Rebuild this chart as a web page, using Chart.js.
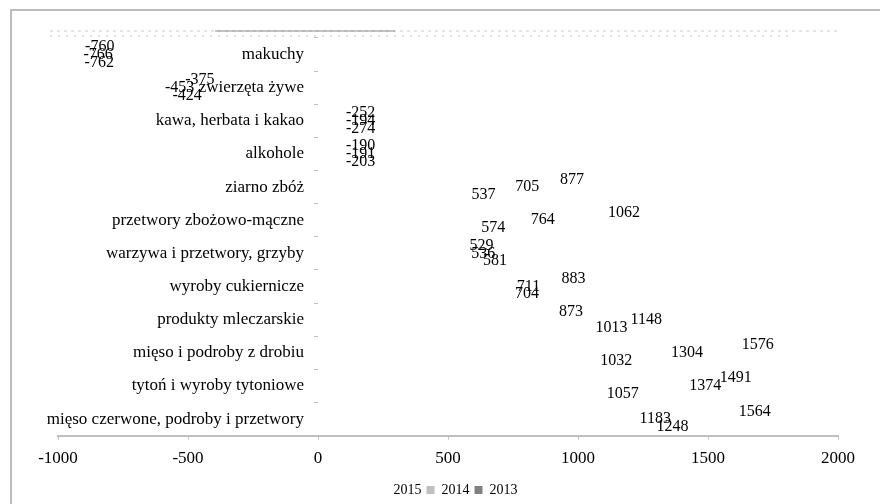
<!DOCTYPE html>
<html>
<head>
<meta charset="utf-8">
<script src="https://cdn.jsdelivr.net/npm/chart.js@4"></script>
<style>
  body { margin: 0; background: #fff; }
  #wrap { width: 880px; height: 504px; }
</style>
</head>
<body>
<div id="wrap"><canvas id="myChart"></canvas></div>
<script>
const categories = [
    'makuchy',
    'zwierzęta żywe',
    'kawa, herbata i kakao',
    'alkohole',
    'ziarno zbóż',
    'przetwory zbożowo-mączne',
    'warzywa i przetwory, grzyby',
    'wyroby cukiernicze',
    'produkty mleczarskie',
    'mięso i podroby z drobiu',
    'tytoń i wyroby tytoniowe',
    'mięso czerwone, podroby i przetwory'
];

// top bar, middle bar, bottom bar of each group
const values2013 = [-760, -375, -252, -190, 877, 1062, 529, 883, 873, 1576, 1491, 1564];
const values2014 = [-766, -453, -194, -191, 705, 764, 536, 711, 1148, 1304, 1374, 1183];
const values2015 = [-762, -424, -274, -203, 537, 574, 581, 704, 1013, 1032, 1057, 1248];

const xTickValues = [-1000, -500, 0, 500, 1000, 1500, 2000];

const legendColors = ['rgb(128, 128, 128)', 'rgb(191, 191, 191)', 'rgb(255, 255, 255)'];

const serif = '"Liberation Serif", "Times New Roman", serif';

// grey frame round the whole picture and the smudged line at the top
const frame = {
    id: 'frame',
    beforeDraw(chart) {
        const c = chart.ctx;
        c.save();
        c.fillStyle = '#fff';
        c.fillRect(0, 0, chart.width, chart.height);
        c.strokeStyle = 'rgb(166, 166, 166)';
        c.lineWidth = 1.5;
        c.strokeRect(11, 10, chart.width + 20, chart.height + 20);
        c.restore();
    },
    afterDraw(chart) {
        const c = chart.ctx;
        const a = chart.chartArea;
        c.save();
        c.strokeStyle = 'rgb(200, 200, 200)';
        c.lineWidth = 1;
        c.setLineDash([3, 4]);
        c.beginPath();
        c.moveTo(a.left - 8, a.top - 7);
        c.lineTo(a.right, a.top - 7);
        c.stroke();
        c.setLineDash([2, 6]);
        c.beginPath();
        c.moveTo(a.left - 8, a.top - 2);
        c.lineTo(a.right - 50, a.top - 2);
        c.stroke();
        c.setLineDash([]);
        c.strokeStyle = 'rgb(140, 140, 140)';
        c.beginPath();
        c.moveTo(215, a.top - 7);
        c.lineTo(395, a.top - 7);
        c.stroke();
        c.restore();
    }
};

// category names sit just left of the zero line
const categoryLabels = {
    id: 'categoryLabels',
    afterDraw(chart) {
        const c = chart.ctx;
        const y = chart.scales.y;
        const zero = chart.scales.x.getPixelForValue(0);
        c.save();
        c.font = '17px ' + serif;
        c.fillStyle = '#000';
        c.textAlign = 'right';
        c.textBaseline = 'middle';
        categories.forEach((name, i) => {
            c.fillText(name, zero - 14, y.getPixelForValue(i));
        });
        c.restore();
    }
};

const valueLabels = {
    id: 'valueLabels',
    afterDatasetsDraw(chart) {
        const c = chart.ctx;
        const zero = chart.scales.x.getPixelForValue(0);
        c.save();
        c.font = '16px ' + serif;
        c.fillStyle = '#000';
        c.textBaseline = 'middle';
        chart.data.datasets.forEach((ds, i) => {
            chart.getDatasetMeta(i).data.forEach((bar, j) => {
                const v = ds.data[j];
                let x;
                if (v >= 0) {
                    x = bar.x + 14;
                    c.textAlign = 'left';
                } else if (v < -300) {
                    x = bar.x - 6;
                    c.textAlign = 'right';
                } else {
                    x = zero + 28;
                    c.textAlign = 'left';
                }
                c.fillText(String(v), x, bar.y);
            });
        });
        c.restore();
    }
};

const ctx = document.getElementById('myChart');

new Chart(ctx, {
    type: 'bar',
    data: {
        labels: categories,
        datasets: [{
            label: '2013',
            data: values2013,
            backgroundColor: 'rgba(0, 0, 0, 0)'
        }, {
            label: '2014',
            data: values2014,
            backgroundColor: 'rgba(0, 0, 0, 0)'
        }, {
            label: '2015',
            data: values2015,
            backgroundColor: 'rgba(0, 0, 0, 0)'
        }]
    },
    options: {
        indexAxis: 'y',
        responsive: true,
        maintainAspectRatio: false,
        animation: false,
        categoryPercentage: 0.7,
        barPercentage: 1,
        layout: {
            padding: { left: 58, right: 42, top: 38, bottom: -3 }
        },
        scales: {
            x: {
                min: -1000,
                max: 2000,
                afterBuildTicks: (scale) => {
                    scale.ticks = xTickValues.map(v => ({ value: v }));
                },
                grid: {
                    drawOnChartArea: false,
                    color: 'rgb(191, 191, 191)',
                    tickLength: 4
                },
                border: { color: 'rgb(191, 191, 191)', width: 2 },
                ticks: {
                    color: '#000',
                    padding: 9,
                    maxRotation: 0,
                    font: { family: serif, size: 17 },
                    callback: (v) => String(v)
                }
            },
            y: {
                position: { x: 0 },
                grid: {
                    drawOnChartArea: false,
                    color: 'rgb(191, 191, 191)',
                    tickLength: 4
                },
                border: { display: false },
                ticks: { display: false }
            }
        },
        plugins: {
            legend: {
                position: 'bottom',
                reverse: true,
                labels: {
                    color: '#000',
                    boxWidth: 8,
                    boxHeight: 8,
                    padding: 5,
                    font: { family: serif, size: 14 },
                    generateLabels: (chart) => chart.data.datasets.map((ds, i) => ({
                        text: ds.label,
                        fillStyle: legendColors[i],
                        strokeStyle: legendColors[i],
                        lineWidth: 0,
                        fontColor: '#000',
                        datasetIndex: i,
                        hidden: false
                    }))
                }
            },
            tooltip: { enabled: false }
        }
    },
    plugins: [frame, categoryLabels, valueLabels]
});
</script>
</body>
</html>
